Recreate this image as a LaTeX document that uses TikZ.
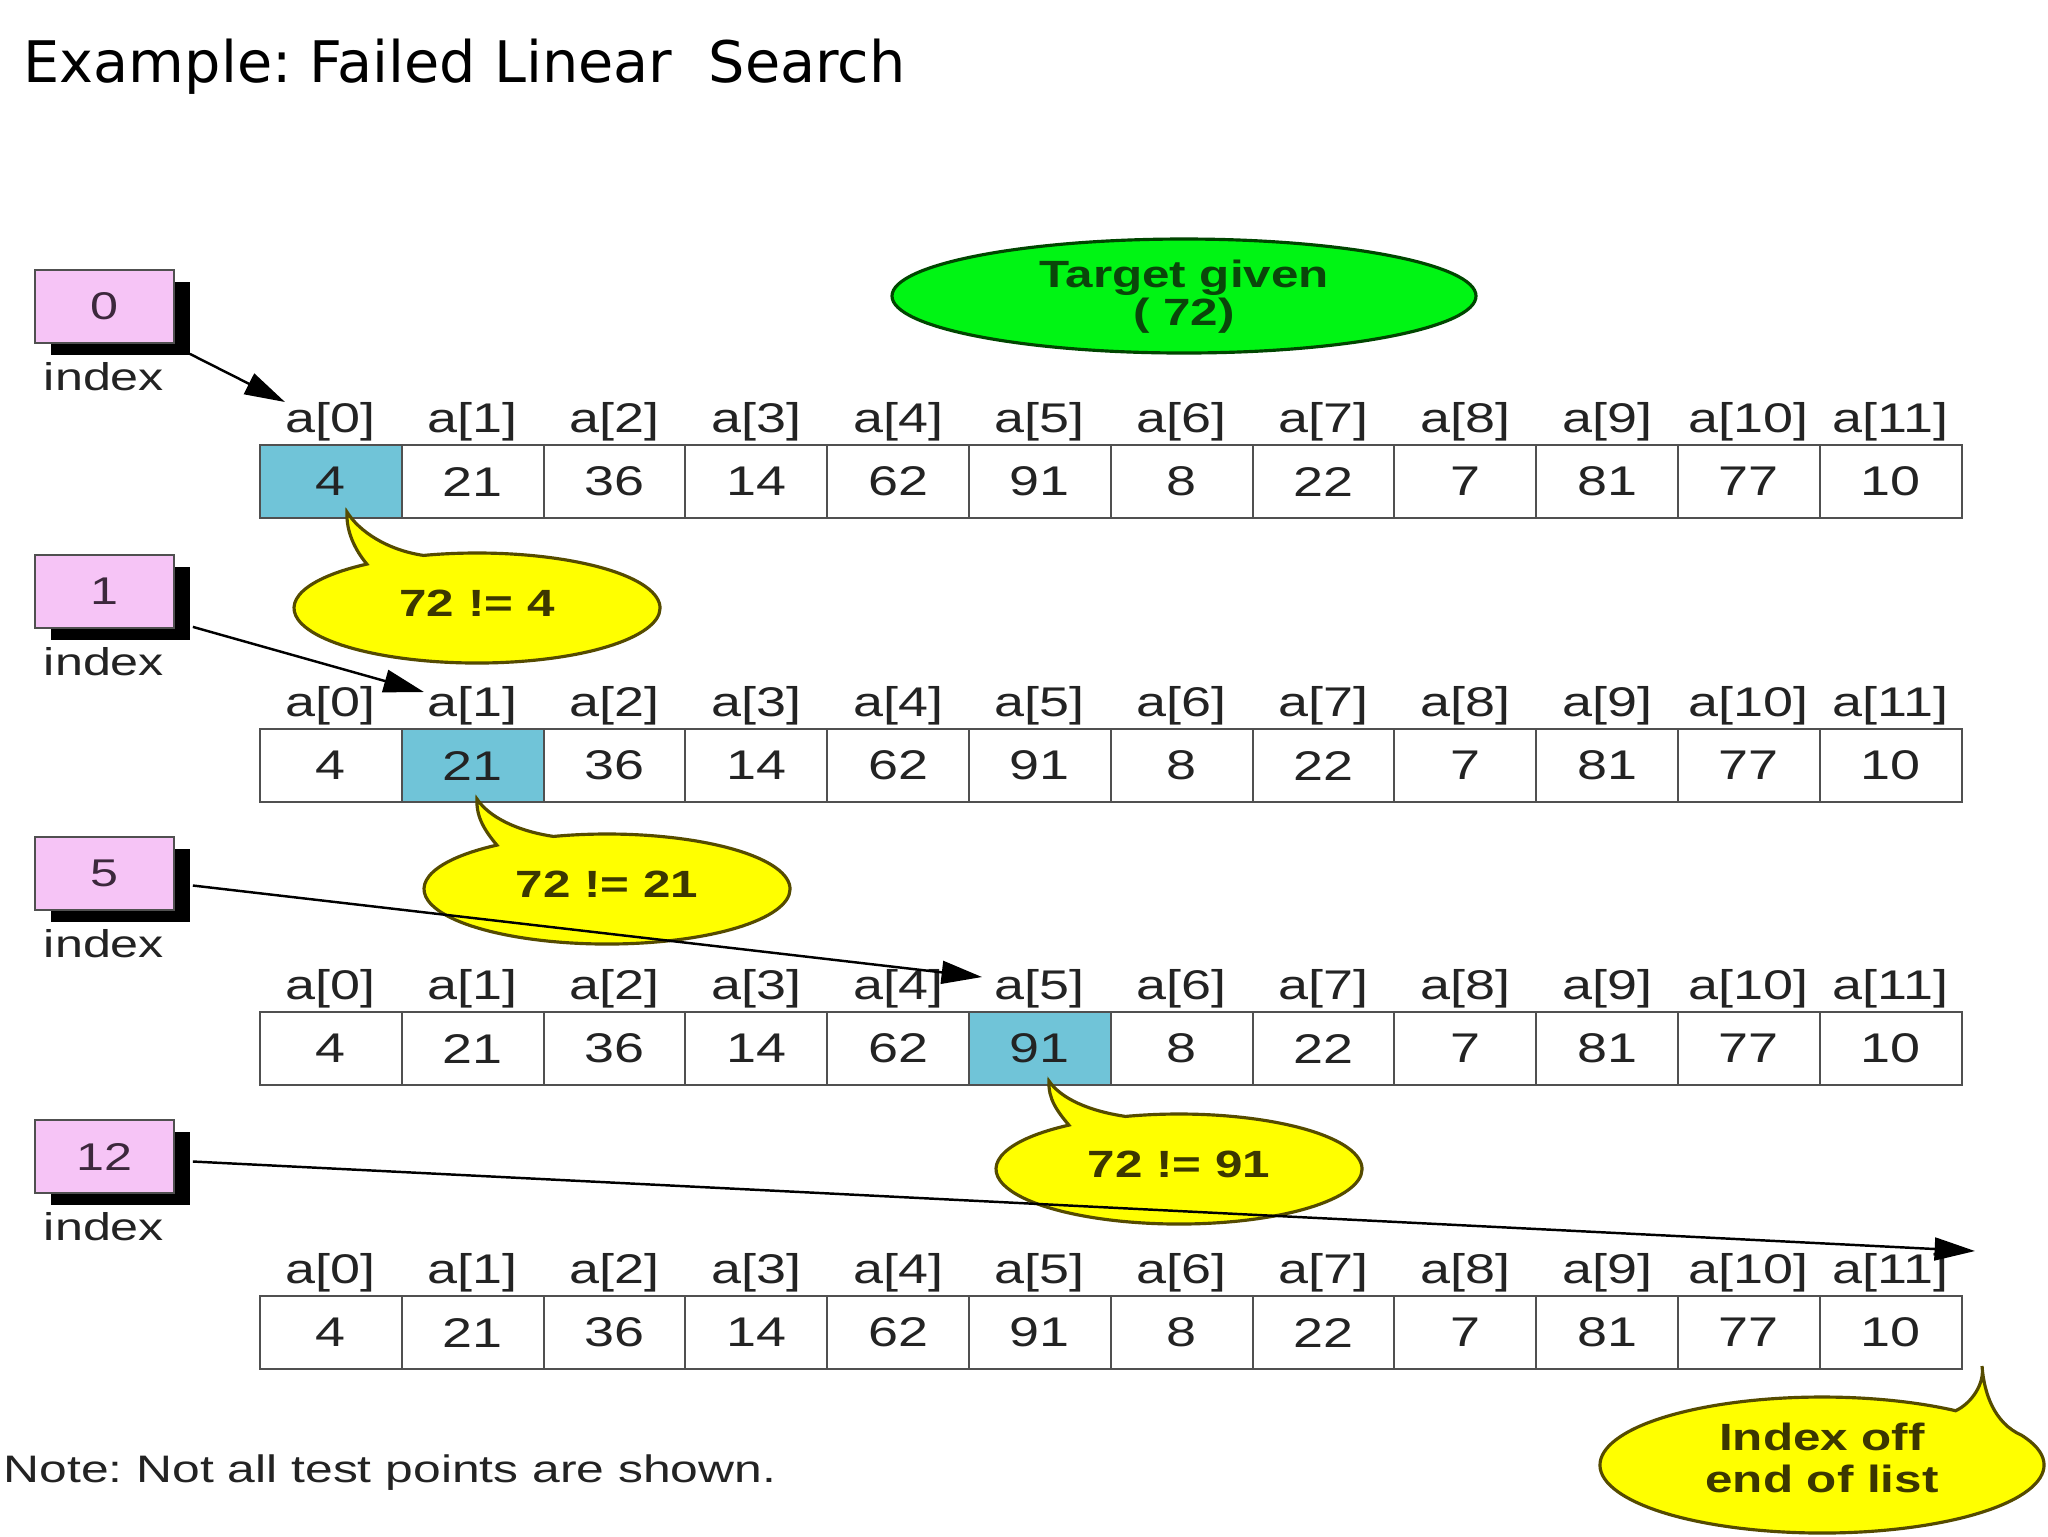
\documentclass[tikz,border=0pt]{standalone}
\usepackage{fontspec}
\usetikzlibrary{arrows.meta,shadows}
\newfontfamily\diagfont[FakeStretch=1.3]{Liberation Sans}
\newfontfamily\titlefont{DejaVu Sans}
\frenchspacing
\definecolor{pinkbox}{RGB}{246,196,246}
\definecolor{hicell}{RGB}{112,196,216}
\definecolor{bubfill}{RGB}{255,255,0}
\definecolor{bubline}{RGB}{85,75,0}
\definecolor{bubtxt}{RGB}{60,55,0}
\definecolor{tgfill}{RGB}{0,245,20}
\definecolor{tgline}{RGB}{0,70,0}
\definecolor{tgtxt}{RGB}{10,70,10}
\definecolor{celltext}{RGB}{35,35,35}
\definecolor{cellline}{RGB}{80,80,80}
\tikzset{
  cell/.style={draw=cellline, line width=0.6pt, minimum width=14.18mm, minimum height=7.3mm,
    inner sep=0pt, outer sep=0pt, text=celltext, font=\diagfont\fontsize{11.8pt}{14pt}\selectfont},
  lab/.style={inner sep=0pt, text=celltext, font=\diagfont\fontsize{11.8pt}{14pt}\selectfont},
  idxlab/.style={inner sep=0pt, text=celltext, font=\diagfont\fontsize{11pt}{13pt}\selectfont},
  idx/.style={draw=cellline, line width=0.5pt, fill=pinkbox, minimum width=13.9mm, minimum height=7.3mm,
    inner sep=0pt, text={rgb,255:red,60;green,40;blue,60}, font=\diagfont\fontsize{11pt}{13pt}\selectfont,
    drop shadow={shadow xshift=1.6mm, shadow yshift=-1.2mm, fill=black, opacity=1}},
  arr/.style={line width=0.7pt, -{Triangle[length=11.5pt,width=6.5pt]}},
  bub/.style={draw=bubline, line width=0.9pt, fill=bubfill},
  bubtext/.style={inner sep=0pt, align=center, text=bubtxt, font=\diagfont\bfseries\fontsize{10.8pt}{12pt}\selectfont},
}
\newcommand\leftbubble[5]{%
  \begin{scope}[shift={(#1,#2)}]
    \draw[bub] ({183*cos(253)},{55*sin(253)}) arc[start angle=253,end angle=593,x radius=183,y radius=55]
      .. controls (-122,-58) and (-131,{#3*0.8}) .. (-130,#3)
      .. controls (-118,{#3*0.8}) and (-90,-58) .. ({183*cos(253)},{55*sin(253)}) -- cycle;
    \node[bubtext] (#4) at (0,-5) {#5};
  \end{scope}}
\begin{document}
\begin{tikzpicture}[x=0.1mm,y=-0.1mm]
\useasboundingbox[fill=white] (0,0) rectangle (2048,1536);

% title
\node[anchor=base west, inner sep=0pt, font=\titlefont\fontsize{16.3pt}{19pt}\selectfont] (title) at (23,82) {Example: Failed Linear \ Search};

% target ellipse
\draw[draw=tgline, line width=0.9pt, fill=tgfill] (1184,296) ellipse [x radius=292, y radius=57];
\node[bubtext, text=tgtxt, font=\diagfont\bfseries\fontsize{10.8pt}{10.8pt}\selectfont] (target) at (1184,297) {Target given\\( 72)};

% arrays
\foreach \r/\top/\h in {0/445/0, 1/729/1, 2/1012/5, 3/1296/-1}{
  \foreach \v [count=\i from 0] in {4,21,36,14,62,91,8,22,7,81,77,10}{
    \ifnum\i=\h \def\cf{hicell}\else\def\cf{white}\fi
    \node[cell, fill=\cf] (c\r-\i) at ({260+141.8*(\i+0.5)},{\top+36.5}) {\v};
    \node[lab] (l\r-\i) at ({260+141.8*(\i+0.5)},{\top-23}) {a[\i]};
  }
}

% index boxes
\foreach \r/\top/\n in {0/270/0, 1/555/1, 2/837/5, 3/1120/12}{
  \node[idx] (i\r) at (104.5,{\top+36.5}) {\n};
  \node[idxlab] (ix\r) at (104,{\top+107}) {index};
}

% arrow end points
\coordinate (t0) at (285,402);
\coordinate (t1) at (424,692);
\coordinate (t2) at (982,977);
\coordinate (t3) at (1975,1251);

% bubbles
\leftbubble{477}{608}{-96}{b1}{72 != 4}
\leftbubble{607}{889}{-90}{b2}{72 != 21}
\leftbubble{1179}{1169}{-88}{b3}{72 != 91}

\draw[arr] ([shift={(15,10)}]i0.south east) -- (t0);
\draw[arr] ([shift={(18,-2)}]i1.south east) -- (t1);
\draw[arr] ([shift={(18,12)}]i2.east) -- (t2);
\draw[arr] ([shift={(18,5)}]i3.east) -- (t3);

% last bubble (tail to the upper right)
\begin{scope}[shift={(1822,1465)}]
  \draw[bub] ({222*cos(334)},{68*sin(334)}) arc[start angle=334,end angle=667,x radius=222,y radius=68]
    .. controls (150,-62) and (163,-82) .. (160,-99)
    .. controls (162,-72) and (172,-42) .. ({222*cos(334)},{68*sin(334)}) -- cycle;
  \node[bubtext, font=\diagfont\bfseries\fontsize{10.8pt}{11.8pt}\selectfont] (b4) at (0,-7) {Index off\\end of list};
\end{scope}

% note
\node[anchor=west, inner sep=0pt, text=celltext, font=\diagfont\fontsize{10.9pt}{13pt}\selectfont] (note) at (3,1473) {Note: Not all test points are shown.};
\end{tikzpicture}
\end{document}
